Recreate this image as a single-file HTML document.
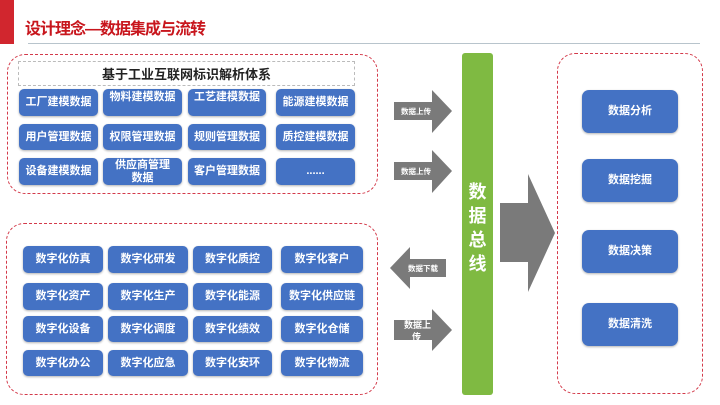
<!DOCTYPE html>
<html><head><meta charset="utf-8"><style>
body{margin:0;width:720px;height:405px;background:#fff;position:relative;overflow:hidden;font-family:"Liberation Sans","Noto Sans CJK SC",sans-serif}
.a{position:absolute}
.b{position:absolute;background:#4472c4;color:#fff;border-radius:5px;display:flex;align-items:center;justify-content:center;text-align:center;font-size:11px;font-weight:bold;line-height:13px;box-shadow:0 1px 2px rgba(0,0,0,.3)}
.d{position:absolute;border:1.5px dashed #d33a4a;border-radius:18px;box-sizing:border-box}
</style></head><body>
<div class="a" style="left:0;top:0;width:14px;height:44px;background:#d1262e"></div>
<div class="a" style="left:25px;top:15px;font-size:16px;font-weight:bold;color:#c8161d;letter-spacing:-1px;white-space:nowrap">设计理念—数据集成与流转</div>
<div class="a" style="left:28px;top:43px;width:672px;height:1px;background:#b8c4cc"></div>

<div class="d" style="left:7px;top:54px;width:371px;height:140px"></div>
<div class="a" style="left:18px;top:61px;width:337px;height:25px;border:1px dashed #bbb;box-sizing:border-box;display:flex;align-items:center;justify-content:center;font-size:13px;font-weight:bold;color:#222">基于工业互联网标识解析体系</div>
<div class="b" style="left:19px;top:89px;width:79px;height:27px">工厂建模数据</div>
<div class="b" style="left:103px;top:89px;width:79px;height:27px;align-items:flex-start;padding-top:2px;box-sizing:border-box">物料建模数据</div>
<div class="b" style="left:188px;top:89px;width:78px;height:27px;align-items:flex-start;padding-top:2px;box-sizing:border-box">工艺建模数据</div>
<div class="b" style="left:276px;top:89px;width:79px;height:27px">能源建模数据</div>
<div class="b" style="left:19px;top:124px;width:79px;height:26px">用户管理数据</div>
<div class="b" style="left:103px;top:124px;width:79px;height:26px">权限管理数据</div>
<div class="b" style="left:188px;top:124px;width:78px;height:26px">规则管理数据</div>
<div class="b" style="left:276px;top:124px;width:79px;height:26px">质控建模数据</div>
<div class="b" style="left:19px;top:158px;width:79px;height:27px">设备建模数据</div>
<div class="b" style="left:103px;top:158px;width:79px;height:27px">供应商管理<br>数据</div>
<div class="b" style="left:188px;top:158px;width:78px;height:27px">客户管理数据</div>
<div class="b" style="left:276px;top:158px;width:79px;height:27px">......</div>

<div class="d" style="left:6px;top:223px;width:372px;height:172px"></div>
<div class="b" style="left:23px;top:246px;width:80px;height:27px">数字化仿真</div>
<div class="b" style="left:108px;top:246px;width:80px;height:27px">数字化研发</div>
<div class="b" style="left:193px;top:246px;width:79px;height:27px">数字化质控</div>
<div class="b" style="left:281px;top:246px;width:82px;height:27px">数字化客户</div>
<div class="b" style="left:23px;top:283px;width:80px;height:27px">数字化资产</div>
<div class="b" style="left:108px;top:283px;width:80px;height:27px">数字化生产</div>
<div class="b" style="left:193px;top:283px;width:79px;height:27px">数字化能源</div>
<div class="b" style="left:281px;top:283px;width:82px;height:27px">数字化供应链</div>
<div class="b" style="left:23px;top:316px;width:80px;height:26px">数字化设备</div>
<div class="b" style="left:108px;top:316px;width:80px;height:26px">数字化调度</div>
<div class="b" style="left:193px;top:316px;width:79px;height:26px">数字化绩效</div>
<div class="b" style="left:281px;top:316px;width:82px;height:26px">数字化仓储</div>
<div class="b" style="left:23px;top:350px;width:80px;height:26px">数字化办公</div>
<div class="b" style="left:108px;top:350px;width:80px;height:26px">数字化应急</div>
<div class="b" style="left:193px;top:350px;width:79px;height:26px">数字化安环</div>
<div class="b" style="left:281px;top:350px;width:82px;height:26px">数字化物流</div>

<svg class="a" style="left:0;top:0" width="720" height="405">
<g fill="#7a7a7a">
<polygon points="394,102 432,102 432,90 452,111 432,133 432,120 394,120"/>
<polygon points="394,162 432,162 432,150 452,171 432,193 432,180 394,180"/>
<polygon points="446,259 410,259 410,247 390,268 410,289 410,277 446,277"/>
<polygon points="394,320 432,320 432,309 452,330 432,351 432,340 394,340"/>
<polygon points="500,203 528,203 528,174 555,233 528,292 528,262 500,262"/>
</g>
<g fill="#fff" font-size="7.5" font-weight="bold" font-family="Liberation Sans,Noto Sans CJK SC,sans-serif">
<text x="401" y="114">数据上传</text>
<text x="401" y="174">数据上传</text>
<text x="408" y="271">数据下载</text>
<text x="404" y="328" font-size="9">数据上</text>
<text x="412" y="340" font-size="9">传</text>
</g>
</svg>

<div class="a" style="left:462px;top:53px;width:31px;height:342px;background:#7fba42;border-radius:3px"></div>
<div class="a" style="left:462px;top:180px;width:31px;text-align:center;color:#fff;font-size:18px;font-weight:bold;line-height:24px">数<br>据<br>总<br>线</div>

<div class="d" style="left:557px;top:53px;width:146px;height:341px"></div>
<div class="b" style="left:582px;top:90px;width:96px;height:43px;border-radius:7px">数据分析</div>
<div class="b" style="left:582px;top:159px;width:96px;height:43px;border-radius:7px">数据挖掘</div>
<div class="b" style="left:582px;top:230px;width:96px;height:43px;border-radius:7px">数据决策</div>
<div class="b" style="left:582px;top:303px;width:96px;height:43px;border-radius:7px">数据清洗</div>
</body></html>
